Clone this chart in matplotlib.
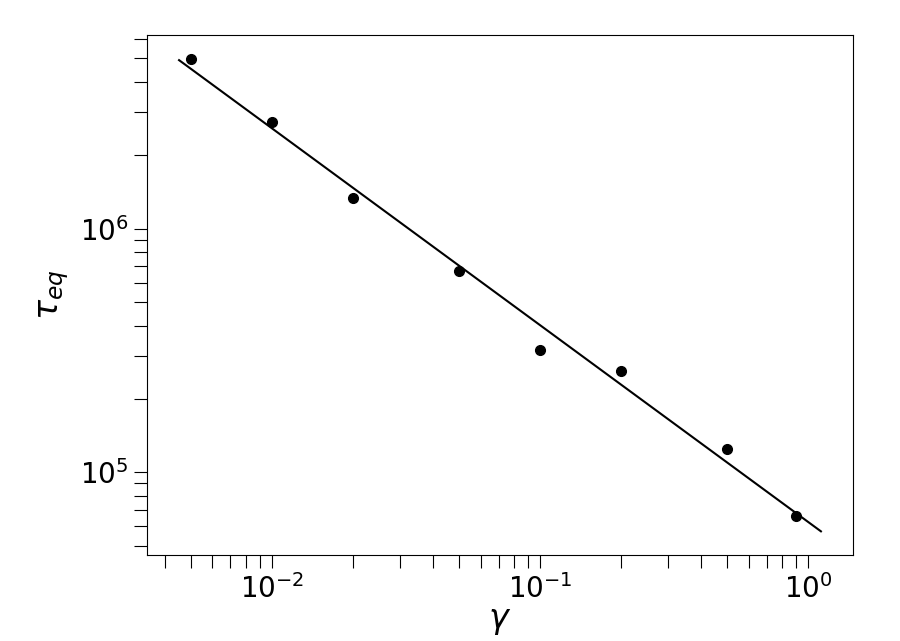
import numpy as np
import matplotlib
matplotlib.use('Agg')
import matplotlib.pyplot as plt

# shear rate and equilibration time
gamma = np.array([0.005, 0.01, 0.02, 0.05, 0.1, 0.2, 0.5, 0.9])
tau_eq = np.array([4.99e6, 2.73e6, 1.34e6, 6.68e5, 3.18e5, 2.61e5, 1.25e5, 6.6e4])

# power law fit in log-log
slope, icpt = np.polyfit(np.log10(gamma), np.log10(tau_eq), 1)
xfit = np.logspace(np.log10(gamma.min() / 1.11), np.log10(gamma.max() * 1.24), 50)
yfit = 10 ** (icpt + slope * np.log10(xfit))

fig = plt.figure(figsize=(9, 6.41), dpi=100)
ax = fig.add_axes([0.1633, 0.1342, 0.7845, 0.8112])

ax.plot(gamma, tau_eq, 'ko', ms=7)
ax.plot(xfit, yfit, 'k-', lw=1.5)
ax.set_xscale('log')
ax.set_yscale('log')

ax.set_xlabel(r'$\gamma$', fontsize=24, labelpad=0)
ax.set_ylabel(r'$\tau_{eq}$', fontsize=24, labelpad=6)
ax.tick_params(which='both', direction='out', length=9.5, width=0.8, labelsize=20, pad=4)

fig.savefig('out.png', dpi=100)
